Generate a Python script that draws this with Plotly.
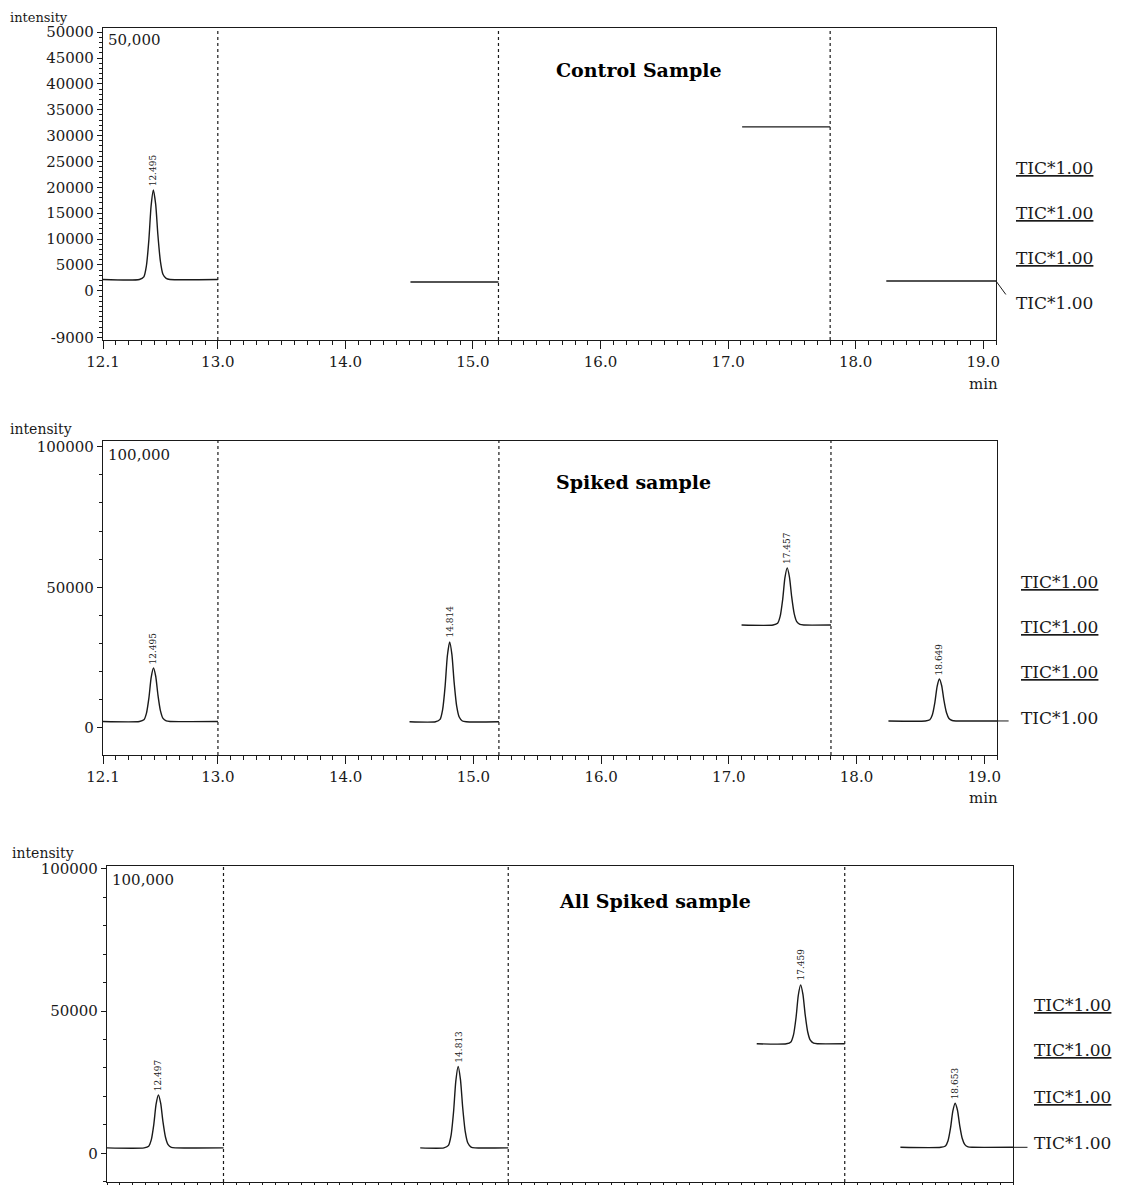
import plotly.graph_objects as go

# ---------------- data ----------------
x_tick_vals = [12.1, 13.0, 14.0, 15.0, 16.0, 17.0, 18.0, 19.0]
x_tick_text = ["12.1", "13.0", "14.0", "15.0", "16.0", "17.0", "18.0", "19.0"]
segment_bounds = [13.0, 15.2, 17.8]

y1_tick_vals = [-9000, 0, 5000, 10000, 15000, 20000, 25000, 30000, 35000, 40000, 45000, 50000]
y23_tick_vals = [0, 50000, 100000]

panel_titles = ["Control Sample", "Spiked sample", "All Spiked sample"]
scale_labels = ["50,000", "100,000", "100,000"]
tic_labels = ["TIC*1.00", "TIC*1.00", "TIC*1.00", "TIC*1.00"]

# Control sample
ctrl_s1_t = [12.10, 12.385, 12.42, 12.44, 12.46, 12.477, 12.495, 12.513, 12.53, 12.55, 12.57, 12.595, 12.625, 13.00]
ctrl_s1_i = [2200, 2200, 2700, 4800, 10000, 16400, 19500, 16700, 10900, 5700, 3200, 2400, 2200, 2200]
ctrl_s2_t = [14.51, 15.20]
ctrl_s2_i = [1700, 1700]
ctrl_s3_t = [17.11, 17.80]
ctrl_s3_i = [31700, 31700]
ctrl_s4_t = [18.24, 19.10]
ctrl_s4_i = [1900, 1900]
ctrl_peaks_t = [12.495]
ctrl_peaks_i = [19500]
ctrl_peak_labels = ["12.495"]

# Spiked sample
spk_s1_t = [12.10, 12.385, 12.42, 12.44, 12.46, 12.477, 12.495, 12.513, 12.53, 12.55, 12.57, 12.595, 12.625, 13.00]
spk_s1_i = [2300, 2300, 2900, 5200, 10900, 17900, 21300, 18300, 11800, 6100, 3400, 2500, 2300, 2300]
spk_s2_t = [14.50, 14.704, 14.739, 14.759, 14.779, 14.796, 14.814, 14.832, 14.849, 14.869, 14.889, 14.914, 14.944, 15.20]
spk_s2_i = [2200, 2200, 3050, 6460, 14980, 25490, 30600, 26060, 16400, 7880, 3900, 2480, 2200, 2200]
spk_s3_t = [17.10, 17.347, 17.382, 17.402, 17.422, 17.439, 17.457, 17.475, 17.492, 17.512, 17.532, 17.557, 17.587, 17.80]
spk_s3_i = [36600, 36600, 37210, 39650, 45740, 53250, 56900, 53650, 46750, 40660, 37820, 36800, 36600, 36600]
spk_s4_t = [18.25, 18.539, 18.574, 18.594, 18.614, 18.631, 18.649, 18.667, 18.684, 18.704, 18.724, 18.749, 18.779, 19.10]
spk_s4_i = [2500, 2500, 2950, 4740, 9200, 14720, 17400, 15020, 9950, 5480, 3390, 2650, 2500, 2500]
spk_peaks_t = [12.495, 14.814, 17.457, 18.649]
spk_peaks_i = [21300, 30600, 56900, 17400]
spk_peak_labels = ["12.495", "14.814", "17.457", "18.649"]

# All spiked sample
all_s1_t = [12.10, 12.387, 12.422, 12.442, 12.462, 12.479, 12.497, 12.515, 12.532, 12.552, 12.572, 12.597, 12.627, 13.00]
all_s1_i = [1900, 1900, 2460, 4690, 10270, 17150, 20500, 17520, 11200, 5620, 3020, 2090, 1900, 1900]
all_s2_t = [14.52, 14.703, 14.738, 14.758, 14.778, 14.795, 14.813, 14.831, 14.848, 14.868, 14.888, 14.913, 14.943, 15.20]
all_s2_i = [1900, 1900, 2760, 6190, 14770, 25350, 30500, 25920, 16200, 7620, 3620, 2190, 1900, 1900]
all_s3_t = [17.12, 17.349, 17.384, 17.404, 17.424, 17.441, 17.459, 17.477, 17.494, 17.514, 17.534, 17.559, 17.589, 17.80]
all_s3_i = [38500, 38500, 39120, 41610, 47820, 55470, 59200, 55890, 48850, 42640, 39740, 38710, 38500, 38500]
all_s4_t = [18.23, 18.543, 18.578, 18.598, 18.618, 18.635, 18.653, 18.671, 18.688, 18.708, 18.728, 18.753, 18.783, 19.10]
all_s4_i = [2100, 2100, 2570, 4430, 9080, 14810, 17600, 15120, 9850, 5200, 3030, 2260, 2100, 2100]
all_peaks_t = [12.497, 14.813, 17.459, 18.653]
all_peaks_i = [20500, 30500, 59200, 17600]
all_peak_labels = ["12.497", "14.813", "17.459", "18.653"]

# ---------------- figure ----------------
PAGE_OFF = 8            # default page body margin
W, H = 1122 - PAGE_OFF, 1185 - PAGE_OFF
FONT = "DejaVu Serif"
INK = "#1a1a1a"


def px(x):
    return (x - PAGE_OFF) / W


def py(y):
    return 1 - (y - PAGE_OFF) / H


panels = [
    dict(segs=[(ctrl_s1_t, ctrl_s1_i), (ctrl_s2_t, ctrl_s2_i), (ctrl_s3_t, ctrl_s3_i), (ctrl_s4_t, ctrl_s4_i)],
         peaks=(ctrl_peaks_t, ctrl_peaks_i, ctrl_peak_labels),
         xdom=(103, 996), ydom=(28, 340), yrange=[-9500, 50800], ytv=y1_tick_vals, ydt=1000,
         title_xy=(639, 70), scale_xy=(106, 40), int_xy=(8, 17), int_size=13, min_y=384, show_xlab=True,
         tic_x=1014, tic_ys=[168, 213, 258, 303], lead_end=(1.011, -700)),
    dict(segs=[(spk_s1_t, spk_s1_i), (spk_s2_t, spk_s2_i), (spk_s3_t, spk_s3_i), (spk_s4_t, spk_s4_i)],
         peaks=(spk_peaks_t, spk_peaks_i, spk_peak_labels),
         xdom=(103, 997), ydom=(441, 755), yrange=[-9600, 102000], ytv=y23_tick_vals, ydt=10000,
         title_xy=(633, 482), scale_xy=(106, 455), int_xy=(8, 429), int_size=14, min_y=798, show_xlab=True,
         tic_x=1019, tic_ys=[582, 627, 672, 718], lead_end=(1.013, None)),
    dict(segs=[(all_s1_t, all_s1_i), (all_s2_t, all_s2_i), (all_s3_t, all_s3_i), (all_s4_t, all_s4_i)],
         peaks=(all_peaks_t, all_peaks_i, all_peak_labels),
         xdom=(107, 1013), ydom=(866, 1182), yrange=[-10100, 101000], ytv=y23_tick_vals, ydt=10000,
         title_xy=(655, 901), scale_xy=(110, 880), int_xy=(10, 853), int_size=14, min_y=None, show_xlab=False,
         tic_x=1032, tic_ys=[1005, 1050, 1097, 1143], lead_end=(1.016, None)),
]

fig = go.Figure()
annotations = []
shapes = []
layout_axes = {}

for k, p in enumerate(panels, start=1):
    xa = "x" if k == 1 else f"x{k}"
    ya = "y" if k == 1 else f"y{k}"
    xname = "xaxis" if k == 1 else f"xaxis{k}"
    yname = "yaxis" if k == 1 else f"yaxis{k}"

    for t, v in p["segs"]:
        fig.add_trace(go.Scatter(x=t, y=v, mode="lines", xaxis=xa, yaxis=ya,
                                 line=dict(color=INK, width=1.4, shape="spline", smoothing=0.6),
                                 showlegend=False, hoverinfo="skip"))

    layout_axes[xname] = dict(
        domain=[px(p["xdom"][0]), px(p["xdom"][1])], range=[12.1, 19.1], anchor=ya,
        tickvals=x_tick_vals, ticktext=x_tick_text, ticks="outside", ticklen=8, tickwidth=1,
        tickcolor=INK, showticklabels=p["show_xlab"], automargin=False,
        minor=dict(dtick=0.1, tick0=12.0, ticks="outside", ticklen=4, tickcolor=INK, showgrid=False),
        showline=True, mirror=True, linecolor=INK, linewidth=1.2, showgrid=False, zeroline=False,
        tickfont=dict(family=FONT, size=15, color=INK), fixedrange=True)
    layout_axes[yname] = dict(
        domain=[py(p["ydom"][1]), py(p["ydom"][0])], range=p["yrange"], anchor=xa,
        tickvals=p["ytv"], ticktext=[str(v) for v in p["ytv"]], ticks="outside", ticklen=5,
        tickcolor=INK, automargin=False,
        minor=dict(dtick=p["ydt"], tick0=0, ticks="outside", ticklen=3, tickcolor=INK, showgrid=False),
        showline=True, mirror=True, linecolor=INK, linewidth=1.2, showgrid=False, zeroline=False,
        tickfont=dict(family=FONT, size=15, color=INK), fixedrange=True)

    # dotted segment separators
    for b in segment_bounds:
        shapes.append(dict(type="line", xref=xa, yref=f"{ya} domain", x0=b, x1=b, y0=0, y1=1,
                           line=dict(color=INK, width=1.2, dash="dot")))

    # peak retention time labels
    pt, pi, pl = p["peaks"]
    for t, v, s in zip(pt, pi, pl):
        annotations.append(dict(x=t, y=v, xref=xa, yref=ya, text=s, showarrow=False,
                                textangle=-90, yanchor="bottom", xanchor="center", yshift=2,
                                font=dict(family=FONT, size=9, color=INK)))

    # panel title
    annotations.append(dict(x=px(p["title_xy"][0]), y=py(p["title_xy"][1]), xref="paper", yref="paper",
                            text=f"<b>{panel_titles[k-1]}</b>", showarrow=False,
                            xanchor="center", yanchor="middle",
                            font=dict(family=FONT, size=19, color="#000")))
    # scale label inside plot
    annotations.append(dict(x=px(p["scale_xy"][0]), y=py(p["scale_xy"][1]), xref="paper", yref="paper",
                            text=scale_labels[k-1], showarrow=False, xanchor="left", yanchor="middle",
                            font=dict(family=FONT, size=15, color=INK)))
    # intensity axis label
    annotations.append(dict(x=px(p["int_xy"][0]), y=py(p["int_xy"][1]), xref="paper", yref="paper",
                            text="intensity", showarrow=False, xanchor="left", yanchor="middle",
                            font=dict(family=FONT, size=p["int_size"], color=INK)))
    if p["min_y"] is not None:
        annotations.append(dict(x=px(983), y=py(p["min_y"]), xref="paper", yref="paper",
                                text="min", showarrow=False, xanchor="center", yanchor="middle",
                                font=dict(family=FONT, size=15, color=INK)))

    # TIC labels on the right
    for j, (lab, yy) in enumerate(zip(tic_labels, p["tic_ys"])):
        txt = f"<u>{lab}</u>" if j < 3 else lab
        annotations.append(dict(x=px(p["tic_x"]), y=py(yy), xref="paper", yref="paper",
                                text=txt, showarrow=False, xanchor="left", yanchor="middle",
                                font=dict(family=FONT, size=17, color=INK)))

    # leader from last trace to bottom TIC label
    last_v = p["segs"][3][1][-1]
    lx, ly = p["lead_end"]
    shapes.append(dict(type="line", xref=f"{xa} domain", yref=ya, x0=1.0, x1=lx,
                       y0=last_v, y1=(last_v if ly is None else ly),
                       line=dict(color=INK, width=1)))

fig.update_layout(
    width=W, height=H, margin=dict(l=0, r=0, t=0, b=0, autoexpand=False),
    paper_bgcolor="white", plot_bgcolor="white",
    showlegend=False, annotations=annotations, shapes=shapes,
    font=dict(family=FONT, color=INK),
    **layout_axes,
)

fig.write_html("out.html")
